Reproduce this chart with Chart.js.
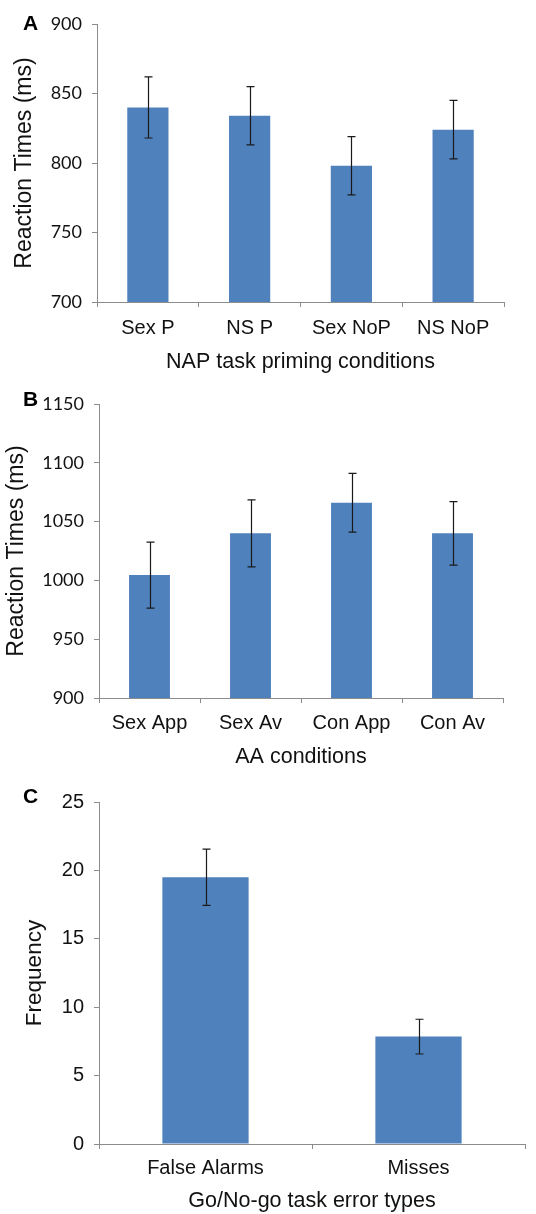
<!DOCTYPE html>
<html>
<head>
<meta charset="utf-8">
<script src="https://cdn.jsdelivr.net/npm/chart.js@4/dist/chart.umd.min.js"></script>
<style>
  body { margin: 0; background: #fff; }
  .panel { position: absolute; left: 0; width: 536px; }
  .tag { position: absolute; left: 23px; font: bold 21px "Liberation Sans", Arial, sans-serif; color: #000; }
</style>
</head>
<body>
<div class="panel" style="top:0"><canvas id="chartA" width="536" height="380"></canvas></div>
<div class="panel" style="top:380px"><canvas id="chartB" width="536" height="400"></canvas></div>
<div class="panel" style="top:780px"><canvas id="chartC" width="536" height="434"></canvas></div>
<div class="tag" style="top:11px">A</div>
<div class="tag" style="top:387px">B</div>
<div class="tag" style="top:784px">C</div>
<script>
// panel A - NAP task
const napLabels = ['Sex P', 'NS P', 'Sex NoP', 'NS NoP'];
const napMeans = [840, 834, 798, 824];
const napErr = [22, 21, 21, 21];
const napTicks = [700, 900, 50];

// panel B - AA task
const aaLabels = ['Sex App', 'Sex Av', 'Con App', 'Con Av'];
const aaMeans = [1004.5, 1040, 1066, 1040];
const aaErr = [28, 28.5, 25, 27];
const aaTicks = [900, 1150, 50];

// panel C - Go/No-go
const gngLabels = ['False Alarms', 'Misses'];
const gngMeans = [19.5, 7.85];
const gngErr = [2.05, 1.27];
const gngTicks = [0, 25, 5];

const barColor = '#4f81bd';
const axisColor = '#8c8c8c';
const arial = '"Liberation Sans", Arial, sans-serif';

function errorBars(errs) {
	return {
		id: 'errbars',
		afterDatasetsDraw: function(chart) {
			const ctx = chart.ctx;
			const y = chart.scales.y;
			const meta = chart.getDatasetMeta(0);
			const vals = chart.data.datasets[0].data;
			ctx.save();
			ctx.strokeStyle = '#1a1a1a';
			ctx.lineWidth = 1.2;
			meta.data.forEach(function(bar, i) {
				const x = Math.round(bar.x) + 0.5;
				const top = y.getPixelForValue(vals[i] + errs[i]);
				const bot = y.getPixelForValue(vals[i] - errs[i]);
				ctx.beginPath();
				ctx.moveTo(x, top); ctx.lineTo(x, bot);
				ctx.moveTo(x - 4, top); ctx.lineTo(x + 4, top);
				ctx.moveTo(x - 4, bot); ctx.lineTo(x + 4, bot);
				ctx.stroke();
			});
			ctx.restore();
		}
	};
}

function makeChart(id, labels, means, errs, ticks, o) {
	new Chart(document.getElementById(id), {
		type: 'bar',
		data: {
			labels: labels,
			datasets: [{
				data: means,
				backgroundColor: barColor,
				borderWidth: 0,
				categoryPercentage: 1,
				barPercentage: 0.405
			}]
		},
		options: {
			responsive: false,
			animation: false,
			layout: { padding: { top: o.top, right: o.right, bottom: 0, left: 0 } },
			plugins: { legend: { display: false }, tooltip: { enabled: false } },
			scales: {
				x: {
					grid: { drawOnChartArea: false, color: axisColor, tickLength: 5, offset: true },
					border: { color: axisColor },
					ticks: { color: '#111', font: { family: arial, size: 20 }, padding: o.xPad, maxRotation: 0, autoSkip: false },
					title: { display: true, text: o.xTitle, color: '#111', font: { family: arial, size: 21.5 }, padding: { top: 0, bottom: o.xTitlePad } },
					afterFit: function(s) { s.height = o.xHeight; }
				},
				y: {
					min: ticks[0], max: ticks[1],
					grid: { drawOnChartArea: false, color: axisColor, tickLength: 5 },
					border: { color: axisColor },
					ticks: {
						stepSize: ticks[2], color: '#111', font: o.tickFont, padding: 10,
						callback: function(v) { return String(v); }
					},
					title: { display: true, text: o.yTitle, color: '#111', font: { family: arial, size: o.yTitleSize }, padding: { top: o.yTitlePad, bottom: 0 } },
					afterFit: function(s) { s.width = o.yWidth; }
				}
			}
		},
		plugins: [errorBars(errs)]
	});
}

makeChart('chartA', napLabels, napMeans, napErr, napTicks, {
	top: 24, right: 32, xHeight: 78, yWidth: 97, xPad: 9, xTitlePad: 5,
	xTitle: 'NAP task priming conditions', yTitle: 'Reaction Times (ms)', yTitleSize: 23, yTitlePad: 11,
	tickFont: { family: 'Lato, sans-serif', size: 18 }
});
makeChart('chartB', aaLabels, aaMeans, aaErr, aaTicks, {
	top: 24, right: 33, xHeight: 82, yWidth: 99, xPad: 8, xTitlePad: 10,
	xTitle: 'AA conditions', yTitle: 'Reaction Times (ms)', yTitleSize: 23, yTitlePad: 3,
	tickFont: { family: 'Lato, sans-serif', size: 18 }
});
makeChart('chartC', gngLabels, gngMeans, gngErr, gngTicks, {
	top: 21, right: 11, xHeight: 70, yWidth: 99, xPad: 7, xTitlePad: 0,
	xTitle: 'Go/No-go task error types', yTitle: 'Frequency', yTitleSize: 22.5, yTitlePad: 21,
	tickFont: { family: arial, size: 20 }
});
</script>
</body>
</html>
